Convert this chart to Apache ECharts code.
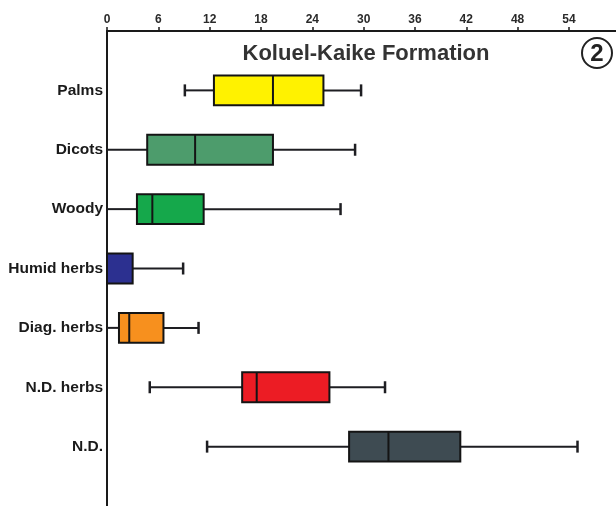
<!DOCTYPE html>
<html>
<head>
<meta charset="utf-8">
<script src="https://cdn.jsdelivr.net/npm/echarts@6/dist/echarts.min.js"></script>
<style>
html,body{margin:0;padding:0;background:#ffffff;}
#chart{width:616px;height:506px;}
</style>
</head>
<body>
<div id="chart"></div>
<script>
// Categories (top to bottom)
const categories = ['Palms', 'Dicots', 'Woody', 'Humid herbs', 'Diag. herbs', 'N.D. herbs', 'N.D.'];
// Box statistics per category
const minVals    = [9.1,  0,    0,    0,   0,    5.0,  11.7];
const q1Vals     = [12.5, 4.7,  3.5,  0,   1.4,  15.8, 28.3];
const medianVals = [19.4, 10.3, 5.3,  0,   2.6,  17.5, 32.9];
const q3Vals     = [25.3, 19.4, 11.3, 3.0, 6.6,  26.0, 41.3];
const maxVals    = [29.7, 29.0, 27.3, 8.9, 10.7, 32.5, 55.0];
const boxColors  = ['#fff200', '#4d9c6c', '#15a84b', '#2c3090', '#f7901e', '#ec1c24', '#3e4b52'];
// Axis ticks
const xTickInterval = 6;
const xMin = 0, xMax = 59.5;
const titleText = 'Koluel-Kaike Formation';
const panelLabel = '2';

const yCats = [''].concat(categories, [' ']);
const data = categories.map((c, i) => ({
  value: [c, minVals[i], q1Vals[i], medianVals[i], q3Vals[i], maxVals[i]],
  itemStyle: { color: boxColors[i] }
}));

function renderItem(params, api) {
  const cat = api.value(0);
  const pMin = api.coord([api.value(1), cat]);
  const pQ1 = api.coord([api.value(2), cat]);
  const pMed = api.coord([api.value(3), cat]);
  const pQ3 = api.coord([api.value(4), cat]);
  const pMax = api.coord([api.value(5), cat]);
  const band = api.size([0, 1])[1];
  const h = band * 0.505;
  const cap = 12;
  const y = pMed[1];
  const color = api.visual('color');
  const lineStyle = { stroke: '#1e1e22', lineWidth: 2 };
  const children = [];
  children.push({ type: 'line', shape: { x1: pMin[0], y1: y, x2: pQ1[0], y2: y }, style: lineStyle });
  children.push({ type: 'line', shape: { x1: pQ3[0], y1: y, x2: pMax[0], y2: y }, style: lineStyle });
  if (api.value(1) > 0) children.push({ type: 'line', shape: { x1: pMin[0], y1: y - cap / 2, x2: pMin[0], y2: y + cap / 2 }, style: { stroke: '#1e1e22', lineWidth: 2.5 } });
  children.push({ type: 'line', shape: { x1: pMax[0], y1: y - cap / 2, x2: pMax[0], y2: y + cap / 2 }, style: { stroke: '#1e1e22', lineWidth: 2.5 } });
  children.push({ type: 'rect', shape: { x: pQ1[0], y: y - h / 2, width: pQ3[0] - pQ1[0], height: h }, style: { fill: color, stroke: '#141414', lineWidth: 2 } });
  if (api.value(3) > api.value(2)) children.push({ type: 'line', shape: { x1: pMed[0], y1: y - h / 2, x2: pMed[0], y2: y + h / 2 }, style: { stroke: '#141414', lineWidth: 2 } });
  return { type: 'group', children: children };
}

const chart = echarts.init(document.getElementById('chart'), null, { renderer: 'canvas' });
chart.setOption({
  backgroundColor: '#ffffff',
  animation: false,
  title: {
    text: titleText,
    left: 366,
    top: 43,
    textAlign: 'center',
    padding: 0,
    textStyle: { fontFamily: 'Liberation Sans, Arial, sans-serif', fontWeight: 'bold', fontSize: 22, color: '#333333' }
  },
  grid: { left: 107, top: 31, right: 0, bottom: 0, containLabel: false, outerBoundsMode: 'none' },
  xAxis: {
    type: 'value',
    position: 'top',
    min: xMin,
    max: xMax,
    interval: xTickInterval,
    axisLine: { show: true, lineStyle: { color: '#1a1a1a', width: 2 } },
    axisTick: { show: true, length: 4, lineStyle: { color: '#1a1a1a', width: 1.5 } },
    axisLabel: { showMaxLabel: false, margin: 5, fontFamily: 'Liberation Sans, Arial, sans-serif', fontWeight: 'bold', fontSize: 12, color: '#2a2a2a' },
    splitLine: { show: false }
  },
  yAxis: {
    type: 'category',
    data: yCats,
    inverse: true,
    boundaryGap: false,
    axisLine: { show: true, lineStyle: { color: '#1a1a1a', width: 2 } },
    axisTick: { show: false },
    axisLabel: { margin: 4, fontFamily: 'Liberation Sans, Arial, sans-serif', fontWeight: 'bold', fontSize: 15.5, color: '#1a1a1a' },
    splitLine: { show: false }
  },
  graphic: [{
    type: 'group',
    left: 581,
    top: 37,
    children: [
      { type: 'circle', shape: { cx: 16, cy: 16, r: 15 }, style: { fill: '#ffffff', stroke: '#222222', lineWidth: 2 } },
      { type: 'text', style: { x: 16, y: 17, text: panelLabel, textAlign: 'center', textVerticalAlign: 'middle', font: 'bold 24px Liberation Sans, Arial, sans-serif', fill: '#222222' } }
    ]
  }],
  series: [{
    type: 'custom',
    renderItem: renderItem,
    encode: { y: 0, x: [1, 2, 3, 4, 5] },
    data: data,
    clip: false
  }]
});
</script>
</body>
</html>
